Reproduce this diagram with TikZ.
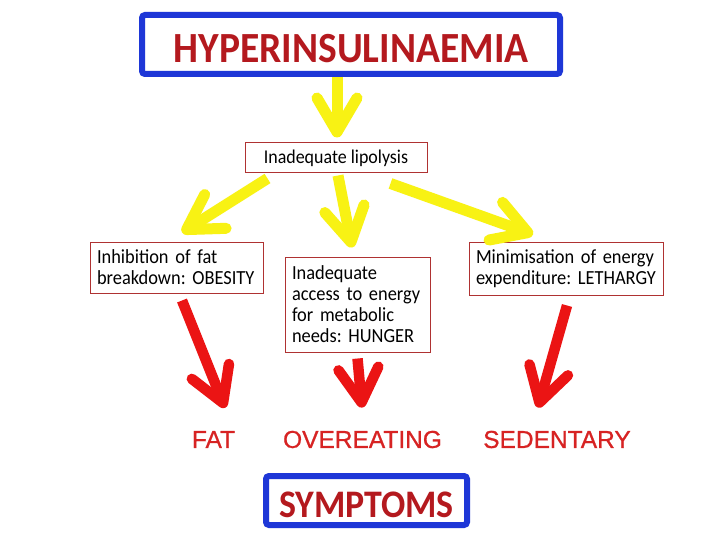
\documentclass[tikz,border=0pt]{standalone}
\usepackage{fontspec}
\setmainfont[FakeStretch=0.92]{Carlito}
\newfontfamily\arialfont[FakeBold=0.8]{Liberation Sans}
\usetikzlibrary{arrows.meta}
\frenchspacing

\definecolor{boxblue}{RGB}{30,55,215}
\definecolor{titlered}{RGB}{180,25,30}
\definecolor{edgered}{RGB}{175,50,50}
\definecolor{labelred}{RGB}{215,35,35}
\definecolor{arrowred}{RGB}{235,20,20}
\definecolor{arrowyellow}{RGB}{248,242,20}

\begin{document}
\begin{tikzpicture}[x=1pt,y=-1pt,
	bluebox/.style={draw=boxblue, line width=6pt, rounded corners=3pt, text=titlered, inner ysep=0pt, text depth=0pt},
	causebox/.style={draw=edgered, line width=1pt, align=left, inner xsep=7pt, font=\fontsize{20}{21}\selectfont},
	symptom/.style={text=labelred, inner sep=0pt, font=\arialfont\fontsize{24.5}{24.5}\selectfont},
	yarrow/.style={draw=arrowyellow, line width=11pt, -{Straight Barb[length=34pt,width=40pt,round]}},
	rarrow/.style={draw=arrowred, line width=10.5pt, -{Straight Barb[length=34pt,width=40pt,round]}}]
	\useasboundingbox[fill=white] (0,0) rectangle (720,540);
	\node[bluebox, font=\fontsize{43}{43}\selectfont\bfseries, text height=37pt, minimum width=418pt, minimum height=59pt] (hyper) at (351,44.5) {HYPERINSULINAEMIA};
	\node[causebox, font=\fontsize{19.5}{21}\selectfont, minimum width=182pt, minimum height=30pt] (lip) at (336,158) {Inadequate lipolysis};
		\node[causebox, text width=159pt, minimum height=51pt] (obes) at (176.5,267.5) {Inhibition of fat\\breakdown: OBESITY};
		\node[causebox, text width=131pt, minimum height=95pt] (hung) at (357.5,304.5) {Inadequate\\access to energy\\for metabolic\\needs: HUNGER};
		\node[causebox, text width=180pt, minimum height=53pt] (leth) at (566,268.5) {Minimisation of energy\\expenditure: LETHARGY};
			\node[symptom] (fat) at (213.5,439.5) {FAT};
			\node[symptom] (over) at (362.5,439.5) {OVEREATING};
			\node[symptom] (sed) at (557,439.5) {SEDENTARY};
	\node[bluebox, font=\fontsize{39}{39}\selectfont\bfseries, text height=33pt, minimum width=201pt, minimum height=49pt] (sympt) at (366.5,500.5) {SYMPTOMS};
	\draw[yarrow, shorten >=5pt] ([xshift=1pt]lip.north |- hyper.south) -- ([xshift=1pt]lip.north);
	\draw[yarrow] ([xshift=23pt,yshift=-5pt]lip.south west) -- ([xshift=5.5pt,yshift=9pt]obes.north);
	\draw[yarrow] ([xshift=2pt,yshift=-2pt]lip.south) -- ([xshift=-5.5pt,yshift=9pt]hung.north);
	\draw[yarrow] ([xshift=-37pt,yshift=-10pt]lip.south east) -- ([xshift=-33pt,yshift=7pt]leth.north);
	\draw[rarrow] ([xshift=5.5pt,yshift=-7pt]obes.south) -- ([xshift=11.5pt,yshift=23pt]fat.north);
	\draw[rarrow] ([yshift=-6pt]hung.south) -- ([xshift=-0.5pt,yshift=23pt]over.north);
	\draw[rarrow] ([xshift=1pt,yshift=-10pt]leth.south) -- ([xshift=-19pt,yshift=23pt]sed.north);
\end{tikzpicture}
\end{document}
